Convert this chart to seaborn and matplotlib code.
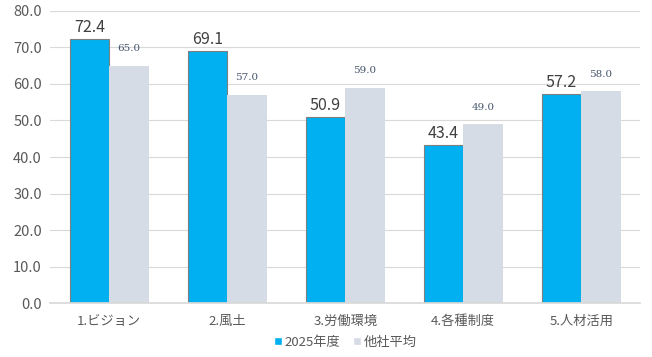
import numpy as np
import pandas as pd
import matplotlib.pyplot as plt
import seaborn as sns

categories = ['1.ビジョン', '2.風土', '3.労働環境', '4.各種制度', '5.人材活用']
series_names = ['2025年度', '他社平均']
values_2025 = [72.4, 69.1, 50.9, 43.4, 57.2]
values_other = [65.0, 57.0, 59.0, 49.0, 58.0]
y_ticks = [0, 10, 20, 30, 40, 50, 60, 70, 80]

df = pd.DataFrame({
    'category': categories * 2,
    'series': [series_names[0]] * 5 + [series_names[1]] * 5,
    'value': values_2025 + values_other,
})

sns.set_theme(style='white')
plt.rcParams['font.family'] = ['Noto Sans CJK JP', 'DejaVu Sans']

fig, ax = plt.subplots(figsize=(6.52, 3.57), dpi=100)
fig.subplots_adjust(left=0.077, right=0.982, top=0.97, bottom=0.15)

palette = {'2025年度': '#00B0F0', '他社平均': '#D6DCE5'}
sns.barplot(data=df, x='category', y='value', hue='series', palette=palette,
            width=0.67, ax=ax, saturation=1, legend=True)

# outline on the blue bars only
for bar in ax.containers[0]:
    bar.set_edgecolor('#7F7F7F')
    bar.set_linewidth(0.8)
for bar in ax.containers[1]:
    bar.set_linewidth(0)

ax.bar_label(ax.containers[0], labels=[f'{v:.1f}' for v in values_2025],
             padding=2, fontsize=11.5, color='#404040')
ax.bar_label(ax.containers[1], labels=[f'{v:.1f}' for v in values_other],
             padding=9, fontsize=7.5, color='#44546A', family='DejaVu Serif')

ax.set_ylim(0, 80)
ax.set_yticks(y_ticks)
ax.set_yticklabels([f'{t:.1f}' for t in y_ticks], fontsize=10.5, color='#595959')
ax.tick_params(axis='x', labelsize=9.5, colors='#595959', length=0, pad=8)
ax.tick_params(axis='y', length=0, pad=6)
ax.yaxis.grid(True, color='#D9D9D9', linewidth=0.8)
ax.set_axisbelow(True)
ax.set_xlabel('')
ax.set_ylabel('')
for side in ['top', 'right', 'left']:
    ax.spines[side].set_visible(False)
ax.spines['bottom'].set_color('#D9D9D9')

leg = ax.legend(loc='upper center', bbox_to_anchor=(0.5, -0.07), ncol=2,
                frameon=False, fontsize=9.5, handlelength=0.6, handleheight=0.6,
                handletextpad=0.2, columnspacing=1.0)
for t in leg.get_texts():
    t.set_color('#595959')

fig.savefig('out.png', dpi=100)
